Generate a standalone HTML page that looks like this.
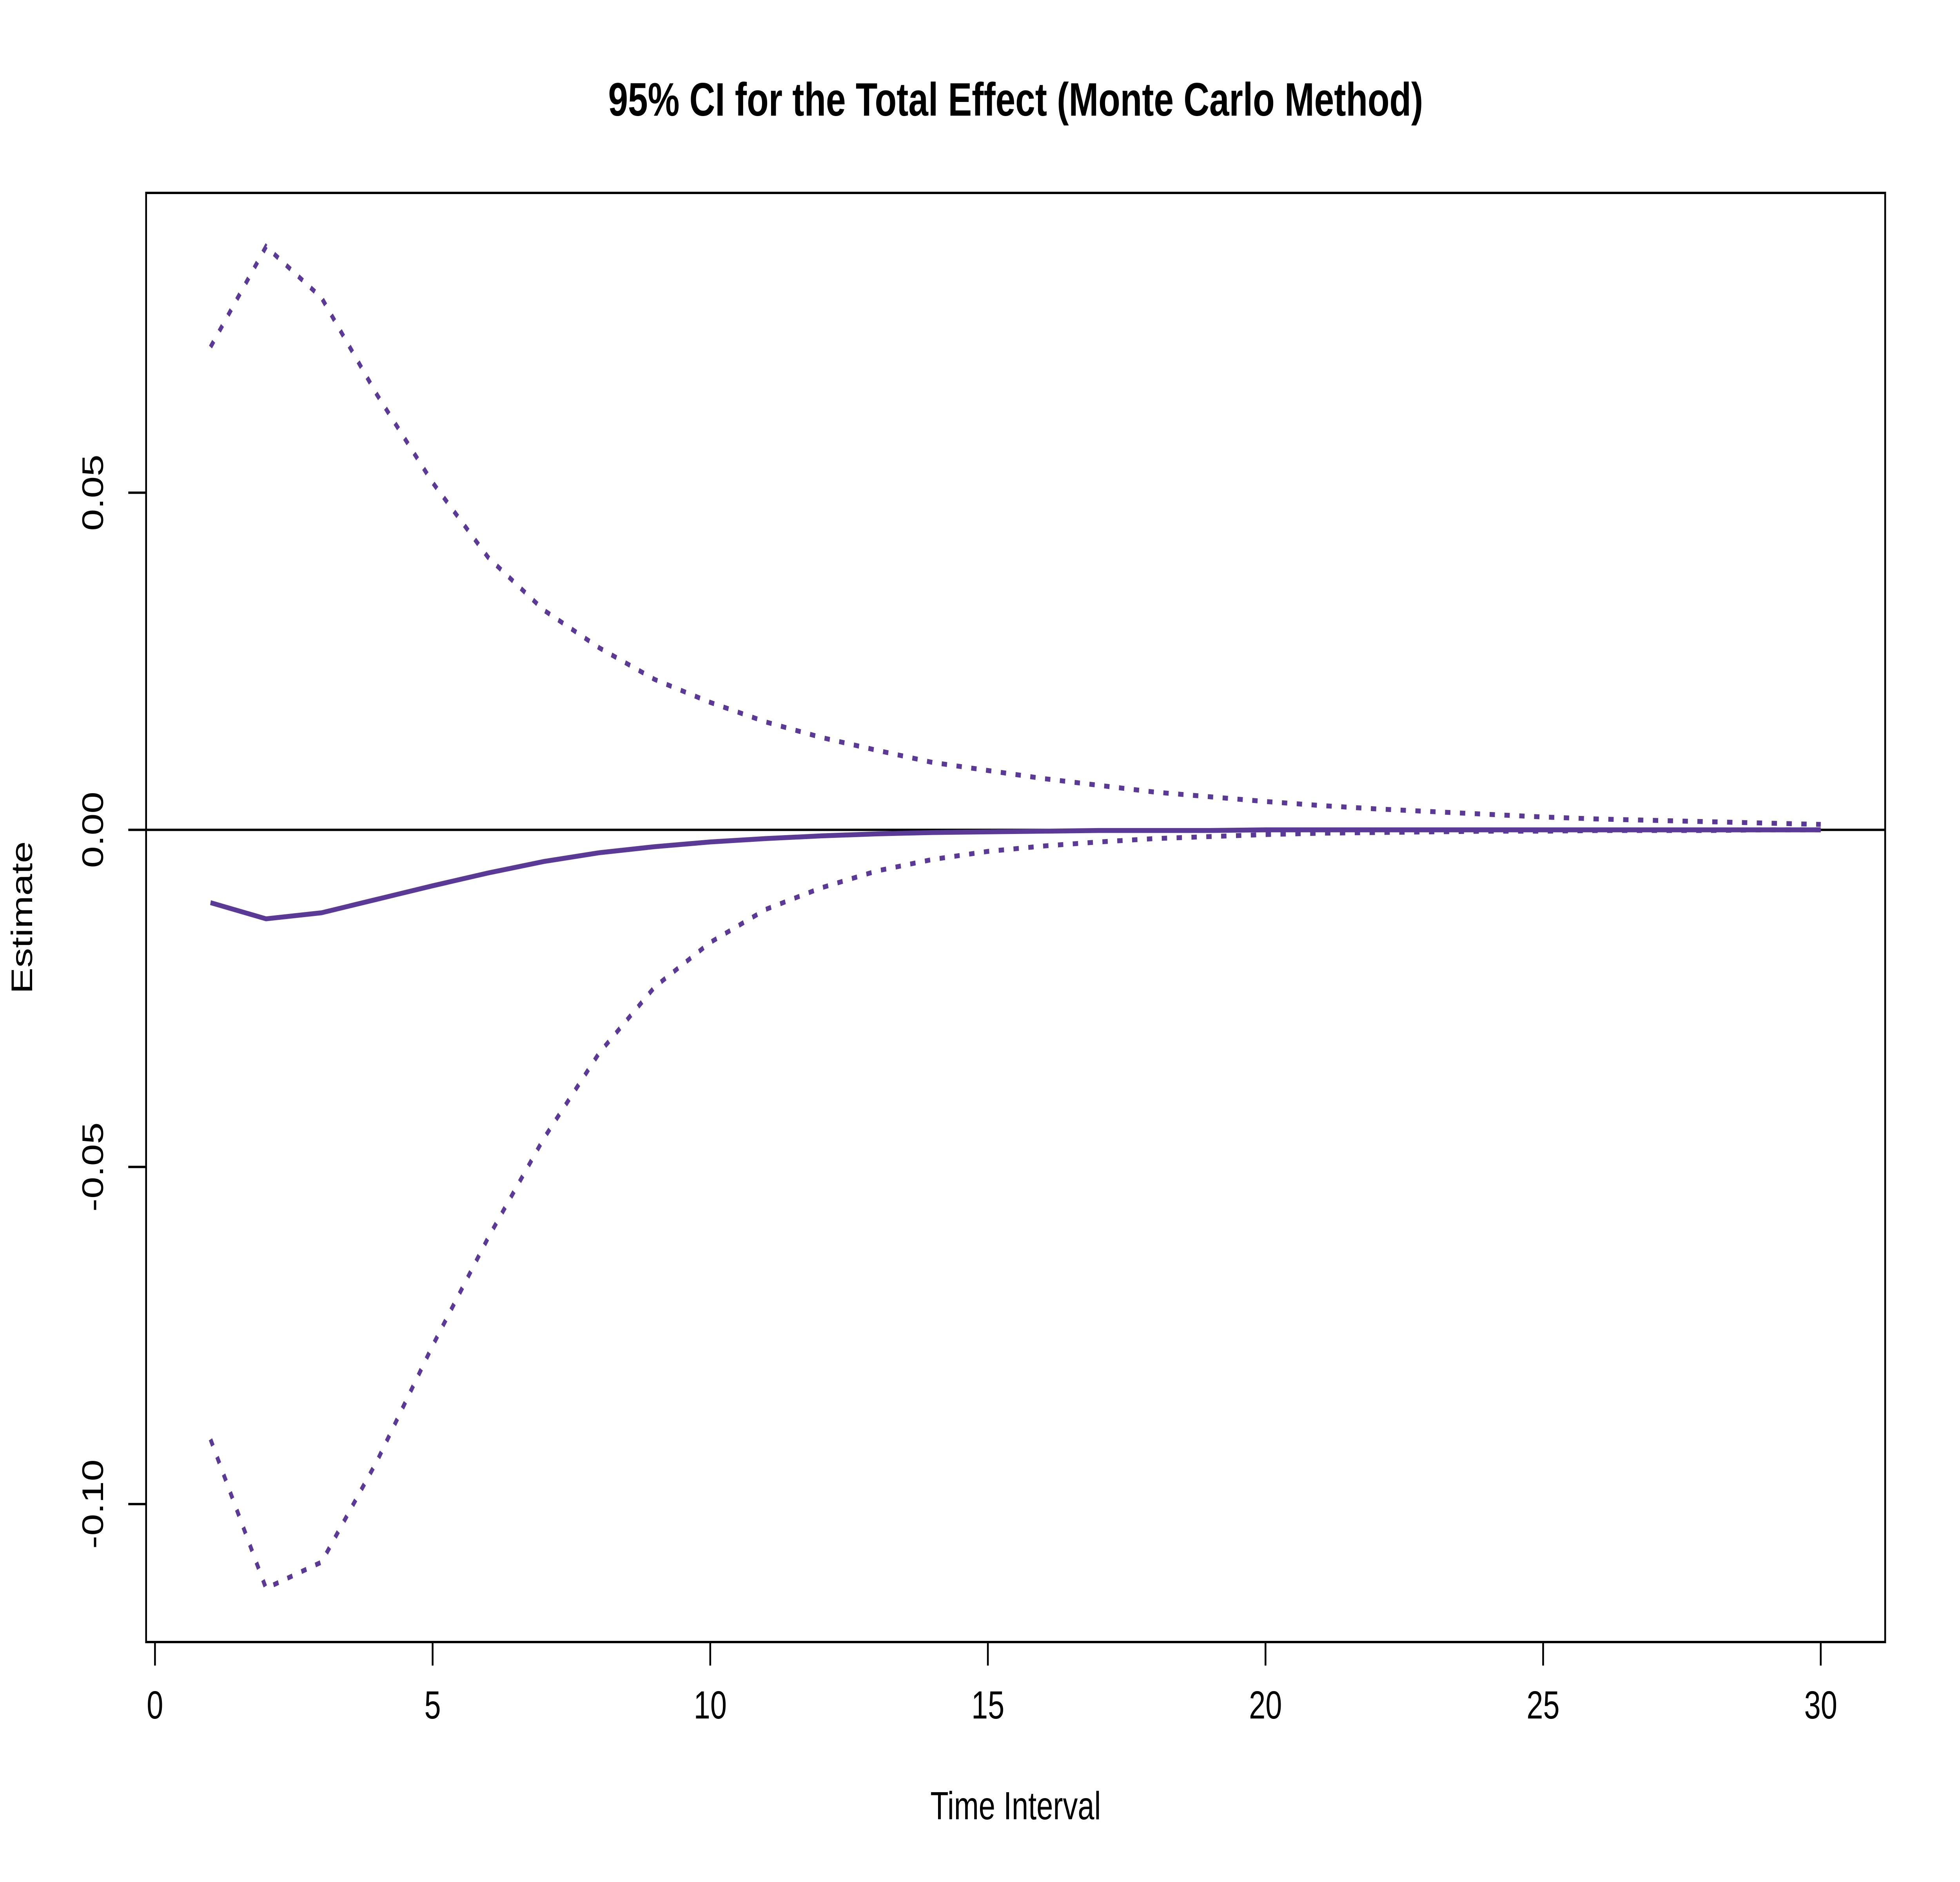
<!DOCTYPE html>
<html><head><meta charset="utf-8"><style>html,body{margin:0;padding:0;background:#fff;width:100%;height:100%;overflow:hidden}svg{display:block;width:100%;height:100%}</style></head>
<body>
<svg id="chart" viewBox="0 0 6600 4800" preserveAspectRatio="none" xmlns="http://www.w3.org/2000/svg" font-family="Liberation Sans, sans-serif">
<rect width="6600" height="4800" fill="#fff"/>
<text x="3420" y="295" font-size="120" font-weight="bold" text-anchor="middle">95% CI for the Total Effect (Monte Carlo Method)</text>
<text x="3420" y="4640" font-size="100" text-anchor="middle">Time Interval</text>
<text transform="translate(108,2340) rotate(-90)" font-size="100" text-anchor="middle">Estimate</text>
<g id="xaxis"></g>
<g id="yaxis"></g>
<g id="series"></g>
<rect x="492" y="492" width="5856" height="3696" fill="none" stroke="#000" stroke-width="6"/>
</svg>
<script>
const timeIntervals = [1,2,3,4,5,6,7,8,9,10,11,12,13,14,15,16,17,18,19,20,21,22,23,24,25,26,27,28,29,30];
const estimate = [-0.0108,-0.0132,-0.0123,-0.0103,-0.0083,-0.0064,-0.0047,-0.0034,-0.0025,-0.0018,-0.0013,-0.0009,-0.0006,-0.0004,-0.0003,-0.0002,-0.0001,-0.0001,-0.0001,0,0,0,0,0,0,0,0,0,0,0];
const upperCI = [0.0716,0.0865,0.0789,0.0645,0.0515,0.0404,0.0326,0.0270,0.0223,0.0189,0.0160,0.0137,0.0118,0.0100,0.0088,0.0076,0.0066,0.0056,0.0049,0.0042,0.0036,0.0031,0.0027,0.0023,0.0019,0.0016,0.0014,0.0012,0.0010,0.0008];
const lowerCI = [-0.0904,-0.1125,-0.1086,-0.0936,-0.0765,-0.0605,-0.0458,-0.0331,-0.0233,-0.0167,-0.0118,-0.0086,-0.0061,-0.0044,-0.0032,-0.0024,-0.0018,-0.0013,-0.0010,-0.0007,-0.0005,-0.0004,-0.0003,-0.0002,-0.0002,-0.0001,-0.0001,-0.0001,0,0];
const xTicks = [0,5,10,15,20,25,30];
const yTicks = [-0.10,-0.05,0.00,0.05];
const yTickLabels = ["-0.10","-0.05","0.00","0.05"];

const NS = "http://www.w3.org/2000/svg";
const L = 492, R = 6348, T = 492, B = 4188;
const allY = upperCI.concat(lowerCI, estimate);
const dmin = Math.min(...allY), dmax = Math.max(...allY);
const ypad = (dmax - dmin) * 0.04;
const y0 = dmin - ypad, y1 = dmax + ypad;
const xmn = Math.min(...timeIntervals), xmx = Math.max(...timeIntervals);
const xpad = (xmx - xmn) * 0.04;
const x0 = xmn - xpad, x1 = xmx + xpad;
function sx(v){ return L + (v - x0) / (x1 - x0) * (R - L); }
function sy(v){ return B - (v - y0) / (y1 - y0) * (B - T); }
function mk(tag, attrs, parent){ const e = document.createElementNS(NS, tag); for (const k in attrs) e.setAttribute(k, attrs[k]); parent.appendChild(e); return e; }

const xa = document.getElementById('xaxis');
const xl = mk('line', {x1: sx(xTicks[0]), x2: sx(xTicks[xTicks.length-1]), y1: B, y2: B, stroke: '#000', 'stroke-width': 6}, xa);


xTicks.forEach(t => {
  const tk = mk('line', {x1: sx(t), x2: sx(t), y1: B, y2: B + 60, stroke: '#000', 'stroke-width': 6}, xa);
  
  
  const tx = mk('text', {x: sx(t), y: B + 195, 'font-size': 100, 'text-anchor': 'middle'}, xa);
  tx.textContent = t;
  
  
});

const ya = document.getElementById('yaxis');
const yl = mk('line', {x1: L, x2: L, y1: sy(yTicks[0]), y2: sy(yTicks[yTicks.length-1]), stroke: '#000', 'stroke-width': 6}, ya);


yTicks.forEach((t, i) => {
  const tk = mk('line', {x1: L - 60, x2: L, y1: sy(t), y2: sy(t), stroke: '#000', 'stroke-width': 6}, ya);
  
  
  const tx = mk('text', {transform: 'translate(' + (L - 145) + ',' + sy(t) + ') rotate(-90)', 'font-size': 100, 'text-anchor': 'middle'}, ya);
  tx.textContent = yTickLabels[i];
  
  
});

const sg = document.getElementById('series');
const zl = mk('line', {x1: L, x2: R, y1: sy(0), y2: sy(0), stroke: '#000', 'stroke-width': 6}, sg);


function pts(arr){ return timeIntervals.map((x, i) => sx(x) + ',' + sy(arr[i])).join(' '); }
const col = '#5b3a97';
const up = mk('polyline', {points: pts(upperCI), fill: 'none', stroke: col, 'stroke-width': 12.5, 'stroke-dasharray': '18 32', 'stroke-linecap': 'butt'}, sg);


const lo = mk('polyline', {points: pts(lowerCI), fill: 'none', stroke: col, 'stroke-width': 12.5, 'stroke-dasharray': '18 32', 'stroke-linecap': 'butt'}, sg);


const es = mk('polyline', {points: pts(estimate), fill: 'none', stroke: col, 'stroke-width': 12.5, 'stroke-linejoin': 'round'}, sg);


</script>
</body></html>
